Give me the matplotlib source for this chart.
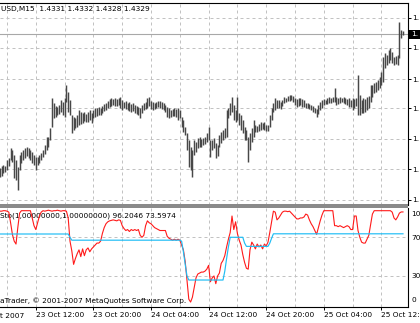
import matplotlib
matplotlib.use("Agg")
import matplotlib.pyplot as plt
from matplotlib.patches import Rectangle
import matplotlib.transforms as mtransforms

W, H = 420, 323
FS = 5.3
plt.rcParams['font.family'] = ['DejaVu Sans']

# ---------------- data (EURUSD M15) ----------------
high = [1.4195, 1.4197, 1.4198, 1.4197, 1.4203, 1.4205, 1.4215, 1.4213, 1.4208, 1.4203,
        1.4196, 1.4208, 1.4211, 1.4213, 1.4215, 1.4216, 1.4215, 1.4213, 1.4211, 1.4208,
        1.4206, 1.4206, 1.4208, 1.4210, 1.4213, 1.4218, 1.4226, 1.4226, 1.4235, 1.4265,
        1.4260, 1.4257, 1.4256, 1.4258, 1.4263, 1.4261, 1.4265, 1.4278, 1.4271, 1.4263,
        1.4248, 1.4246, 1.4245, 1.4248, 1.4253, 1.4251, 1.4250, 1.4251, 1.4249, 1.4251,
        1.4253, 1.4250, 1.4253, 1.4255, 1.4255, 1.4256, 1.4255, 1.4257, 1.4259, 1.4260,
        1.4262, 1.4264, 1.4265, 1.4264, 1.4265, 1.4264, 1.4265, 1.4266, 1.4263, 1.4261,
        1.4262, 1.4260, 1.4261, 1.4259, 1.4260, 1.4258, 1.4257, 1.4256, 1.4255, 1.4258,
        1.4260, 1.4261, 1.4265, 1.4266, 1.4262, 1.4261, 1.4260, 1.4261, 1.4262, 1.4262,
        1.4261, 1.4260, 1.4258, 1.4256, 1.4255, 1.4253, 1.4254, 1.4255, 1.4254, 1.4255,
        1.4253, 1.4246, 1.4243, 1.4236, 1.4230, 1.4223, 1.4216, 1.4213, 1.4223, 1.4221,
        1.4225, 1.4226, 1.4224, 1.4225, 1.4226, 1.4230, 1.4236, 1.4223, 1.4223, 1.4225,
        1.4220, 1.4218, 1.4228, 1.4231, 1.4233, 1.4235, 1.4253, 1.4255, 1.4260, 1.4266,
        1.4258, 1.4253, 1.4266, 1.4250, 1.4248, 1.4243, 1.4236, 1.4233, 1.4226, 1.4230,
        1.4235, 1.4243, 1.4238, 1.4237, 1.4239, 1.4241, 1.4240, 1.4241, 1.4238, 1.4238,
        1.4248, 1.4255, 1.4260, 1.4265, 1.4263, 1.4263, 1.4261, 1.4263, 1.4266, 1.4265,
        1.4267, 1.4268, 1.4268, 1.4267, 1.4265, 1.4264, 1.4265, 1.4265, 1.4264, 1.4263,
        1.4260, 1.4260, 1.4259, 1.4258, 1.4257, 1.4255, 1.4254, 1.4258, 1.4261, 1.4263,
        1.4264, 1.4263, 1.4265, 1.4266, 1.4265, 1.4266, 1.4275, 1.4266, 1.4265, 1.4266,
        1.4265, 1.4266, 1.4265, 1.4264, 1.4265, 1.4263, 1.4265, 1.4264, 1.4265, 1.4288,
        1.4268, 1.4263, 1.4265, 1.4264, 1.4266, 1.4267, 1.4278, 1.4278, 1.4280, 1.4281,
        1.4283, 1.4286, 1.4291, 1.4306, 1.4310, 1.4308, 1.4313, 1.4315, 1.4311, 1.4306,
        1.4307, 1.4308, 1.4341, 1.4333, 1.4332]

low = [1.4186, 1.4187, 1.4190, 1.4191, 1.4193, 1.4197, 1.4203, 1.4201, 1.4185, 1.4183,
       1.4173, 1.4193, 1.4200, 1.4203, 1.4205, 1.4207, 1.4205, 1.4203, 1.4200, 1.4198,
       1.4193, 1.4198, 1.4200, 1.4203, 1.4206, 1.4209, 1.4213, 1.4216, 1.4223, 1.4236,
       1.4245, 1.4246, 1.4248, 1.4249, 1.4251, 1.4248, 1.4246, 1.4261, 1.4251, 1.4248,
       1.4230, 1.4233, 1.4235, 1.4236, 1.4238, 1.4239, 1.4240, 1.4242, 1.4241, 1.4241,
       1.4243, 1.4240, 1.4245, 1.4246, 1.4247, 1.4248, 1.4248, 1.4250, 1.4252, 1.4253,
       1.4255, 1.4256, 1.4257, 1.4258, 1.4257, 1.4257, 1.4258, 1.4255, 1.4253, 1.4255,
       1.4254, 1.4253, 1.4252, 1.4251, 1.4252, 1.4250, 1.4249, 1.4248, 1.4245, 1.4250,
       1.4253, 1.4254, 1.4255, 1.4257, 1.4254, 1.4253, 1.4254, 1.4255, 1.4256, 1.4255,
       1.4254, 1.4253, 1.4251, 1.4246, 1.4245, 1.4246, 1.4247, 1.4247, 1.4246, 1.4243,
       1.4245, 1.4236, 1.4231, 1.4228, 1.4213, 1.4196, 1.4193, 1.4186, 1.4208, 1.4211,
       1.4215, 1.4216, 1.4216, 1.4218, 1.4219, 1.4221, 1.4223, 1.4206, 1.4213, 1.4215,
       1.4205, 1.4207, 1.4216, 1.4220, 1.4223, 1.4225, 1.4226, 1.4245, 1.4248, 1.4251,
       1.4243, 1.4241, 1.4243, 1.4238, 1.4233, 1.4230, 1.4223, 1.4223, 1.4201, 1.4213,
       1.4221, 1.4226, 1.4231, 1.4231, 1.4232, 1.4233, 1.4234, 1.4233, 1.4232, 1.4232,
       1.4236, 1.4243, 1.4251, 1.4253, 1.4255, 1.4255, 1.4254, 1.4257, 1.4260, 1.4261,
       1.4262, 1.4262, 1.4263, 1.4261, 1.4258, 1.4256, 1.4257, 1.4258, 1.4256, 1.4256,
       1.4255, 1.4255, 1.4254, 1.4253, 1.4251, 1.4250, 1.4246, 1.4249, 1.4253, 1.4255,
       1.4258, 1.4259, 1.4259, 1.4260, 1.4260, 1.4261, 1.4261, 1.4258, 1.4259, 1.4260,
       1.4261, 1.4260, 1.4259, 1.4258, 1.4256, 1.4256, 1.4253, 1.4255, 1.4257, 1.4248,
       1.4248, 1.4250, 1.4250, 1.4251, 1.4253, 1.4255, 1.4261, 1.4266, 1.4270, 1.4271,
       1.4273, 1.4275, 1.4278, 1.4281, 1.4295, 1.4298, 1.4300, 1.4303, 1.4300, 1.4298,
       1.4299, 1.4298, 1.4305, 1.4325, 1.4328]

sto_main = [97, 97, 97.5, 97.5, 97, 96,
            85, 73, 66, 63, 80, 95,
            97.5, 97.5, 97.5, 97.5, 97.5, 97.5,
            90, 82, 78, 85, 92, 96,
            97.5, 97, 97.5, 98, 97.5, 97, 97.5, 97.5, 98, 97.5, 97, 97.5, 97.5, 97,
            90, 66, 56, 42,
            48, 53, 57, 50, 58, 51, 57, 59, 55, 58, 60, 62, 64, 64, 66,
            74, 80, 84, 86, 87,
            87.5, 88, 87.5, 87, 88, 87.5,
            82, 79, 77, 78, 76, 78, 77, 78, 77, 78,
            72, 70, 72, 82, 87, 85, 84, 82, 80, 79, 78, 77, 77, 77, 77,
            71, 69, 68, 67, 68, 67, 68, 67,
            62, 57, 45, 25, 6, 3, 8, 18, 28, 32, 33,
            34, 34, 35, 37, 41, 24, 28, 30, 22, 30, 33, 43, 46, 51, 60, 68,
            75, 92, 78, 86, 74, 67, 62, 52, 44, 38, 37,
            57, 65, 62, 58, 63, 60, 62, 58, 63, 61, 65,
            75, 86, 97, 96, 88, 90, 93, 96, 97, 97, 96.5, 97, 95, 93, 91, 89, 89, 90, 90, 91,
            94, 93, 88, 84, 81, 77, 73, 80, 87, 93,
            97.5, 97.5, 97.5, 97.5, 97.5, 97.5,
            82, 82, 81, 82, 81, 80, 81, 82, 81, 78, 78,
            92, 92, 77, 70, 65, 64, 64, 68, 72, 83, 94,
            97.5, 97.5, 97.5, 97.5, 97.5, 97.5, 97.5, 97.5, 97.5, 97.5,
            96, 90, 88, 91, 95, 96.2, 96.2046]

sto_signal = [73.4, 73.4, 73.4, 73.4, 73.4, 73.4, 73.4, 73.4, 73.4, 73.4,
              73.4, 73.4, 73.4, 73.4, 73.4, 73.4, 73.4, 73.4, 73.4, 73.4,
              73.4, 73.4, 73.4, 73.4, 73.4, 73.4, 73.4, 73.4, 73.4, 73.4,
              73.4, 73.4, 73.4, 73.4, 73.4, 73.4, 73.4, 73.4, 73.4,
              70, 67,
              67, 67, 67, 67, 67, 67, 67, 67, 67, 67, 67, 67, 67, 67, 67, 67, 67, 67, 67, 67,
              67, 67, 67, 67, 67, 67, 67, 67, 67, 67, 67, 67, 67, 67, 67, 67, 67, 67, 67, 67,
              67, 67, 67, 67, 67, 67, 67, 67, 67, 67, 67, 67, 67, 67, 67, 67, 67, 67, 67, 67,
              66, 55, 42, 30,
              25.8, 25.8, 25.8, 25.8, 25.8, 25.8, 25.8, 25.8, 25.8, 25.8,
              25.8, 25.8, 25.8, 25.8, 25.8, 25.8, 25.8, 25.8, 25.8, 25.8,
              35, 48, 60, 70,
              70, 70, 70, 70, 70, 70, 70,
              64, 60.6,
              60.6, 60.6, 60.6, 60.6, 60.6, 60.6, 60.6, 60.6, 60.6, 60.6, 60.6, 60.6,
              64, 69, 73.6,
              73.6, 73.6, 73.6, 73.6, 73.6, 73.6, 73.6, 73.6, 73.6, 73.6, 73.6, 73.6,
              73.6, 73.6, 73.6, 73.6, 73.6, 73.6, 73.6, 73.6, 73.6, 73.6, 73.6, 73.6,
              73.6, 73.6, 73.6, 73.6, 73.6, 73.6, 73.6, 73.6, 73.6, 73.6, 73.6, 73.6,
              73.6, 73.6, 73.6, 73.6, 73.6, 73.6, 73.6, 73.6, 73.6, 73.6, 73.6, 73.6,
              73.6, 73.6, 73.6, 73.6, 73.6, 73.6, 73.6, 73.6, 73.6, 73.6, 73.6, 73.6,
              73.6, 73.6, 73.6, 73.6, 73.6, 73.6, 73.6, 73.6, 73.6, 73.6, 73.6, 73.6]

last_price = 1.4329
price_grid = [1.4345, 1.4315, 1.4284, 1.42545, 1.4224, 1.4194, 1.4163]
price_labels = ["1."] * len(price_grid)
grid_bars = [4, 20, 36, 52, 68, 84, 100, 116, 132, 148, 164, 180, 196, 212]
time_bars = [20, 52, 84, 116, 148, 180, 212]
time_labels = ["23 Oct 12:00", "23 Oct 20:00", "24 Oct 04:00", "24 Oct 12:00",
               "24 Oct 20:00", "25 Oct 04:00", "25 Oct 12:"]
first_date_label = "t 2007"
sto_levels = [70, 30]
sto_tick_vals = [94.8, 70, 30, 5.2]
sto_tick_labels = ["10", "70", "30", "0"]
title_main = "USD,M15  1.4331 1.4332 1.4328 1.4329"
title_sto = "Sto(1,00000000,1.00000000) 96.2046 73.5974"
copyright_txt = "aTrader, \u00a9 2001-2007 MetaQuotes Software Corp."

# ---------------- layout ----------------
fig = plt.figure(figsize=(W / 100, H / 100), dpi=100)
fig.patch.set_facecolor("white")

def fy(py):
    return 1 - py / H

AX_R = 408
ax = fig.add_axes([0, fy(205), AX_R / W, (205 - 3) / H])
ax2 = fig.add_axes([0, fy(307), AX_R / W, (307 - 207.5) / H])

bars = list(range(len(high)))
xl = (0.2 / 1.8, (AX_R + 0.2) / 1.8)

grid_kw = dict(color="#c2c2c2", lw=0.72, ls=(0, (3, 3)), zorder=0)

# main chart
for b in grid_bars:
    ax.axvline(b, **grid_kw)
for p in price_grid:
    ax.axhline(p, **grid_kw)
ax.axhline(last_price, color="#a8a8a8", lw=0.8, zorder=1)
ax.vlines(bars, low, high, colors="#484848", lw=1.05, zorder=2)
ax.set_xlim(*xl)
ax.set_ylim(1.4158, 1.4360)
ax.yaxis.tick_right()
ax.set_yticks(price_grid)
ax.set_yticklabels(price_labels)
ax.tick_params(axis="y", length=2, width=0.7, pad=0.8, labelsize=FS, colors="black")
ax.set_xticks([])
for s in ["left", "bottom"]:
    ax.spines[s].set_visible(False)
ax.spines["top"].set_linewidth(0.8)
ax.spines["right"].set_linewidth(0.8)

# indicator
for b in grid_bars:
    ax2.axvline(b, **grid_kw)
for lv in sto_levels:
    ax2.axhline(lv, **grid_kw)
ax2.plot(bars, sto_main, color="#ff1a1a", lw=0.8, zorder=3)
ax2.plot(bars, sto_signal, color="#1ebdf5", lw=0.85, zorder=4)
ax2.set_xlim(*xl)
ax2.set_ylim(-2.1, 100.8)
ax2.yaxis.tick_right()
ax2.set_yticks(sto_tick_vals)
ax2.set_yticklabels(sto_tick_labels)
ax2.tick_params(axis="y", length=0, pad=2.2, labelsize=FS, colors="black")
ax2.set_xticks(time_bars)
ax2.set_xticklabels(time_labels, ha="left")
ax2.tick_params(axis="x", length=2.4, width=0.7, pad=1.2, labelsize=FS, colors="black")
ax2.spines["left"].set_visible(False)
ax2.spines["top"].set_visible(False)
ax2.spines["right"].set_linewidth(0.8)
ax2.spines["bottom"].set_linewidth(0.8)

# separator between windows
fig.add_artist(Rectangle((0, fy(207.6)), AX_R / W, 3.4 / H, transform=fig.transFigure,
                         facecolor="#8a8a8a", edgecolor="none"))

# texts
fig.text(1 / W, fy(9.3), title_main, fontsize=FS, ha="left", va="center")
ax2.text(0.5 / W, fy(216), title_sto, fontsize=FS, ha="left", va="center",
         transform=fig.transFigure, zorder=1)
ax2.text(0 / W, fy(300.5), copyright_txt, fontsize=FS, ha="left", va="center",
         transform=fig.transFigure, zorder=1)
fig.text(0.3 / W, fy(315.5), first_date_label, fontsize=FS, ha="left", va="center")

# current price marker on the price scale
fig.add_artist(Rectangle((409 / W, fy(38.5)), 12 / W, 9 / H, transform=fig.transFigure,
                         facecolor="black", edgecolor="none"))
trans = mtransforms.blended_transform_factory(fig.transFigure, ax.transData)
fig.text(411.5 / W, last_price, "1.", transform=trans, fontsize=FS, color="white",
         ha="left", va="center")

fig.savefig("out.png", dpi=100, facecolor="white")
